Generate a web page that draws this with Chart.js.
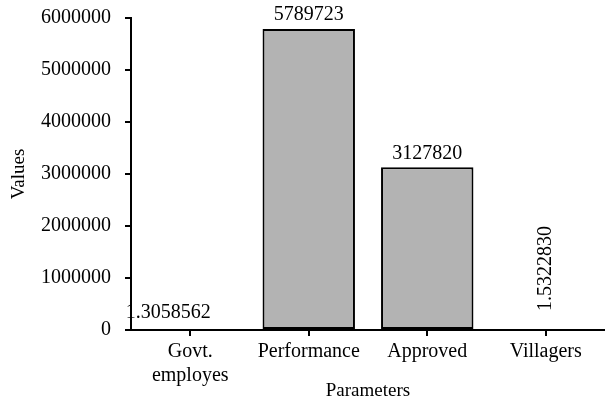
<!DOCTYPE html>
<html>
<head>
<meta charset="utf-8">
<script src="https://cdn.jsdelivr.net/npm/chart.js@4/dist/chart.umd.min.js"></script>
<style>
  html, body { margin: 0; padding: 0; background: #ffffff; }
  #wrap { width: 605px; height: 402px; }
</style>
</head>
<body>
<div id="wrap"><canvas id="c" width="605" height="402"></canvas></div>
<script>
// Datos del gráfico
const CATEGORIAS = [['Govt.', 'employes'], 'Performance', 'Approved', 'Villagers'];
const VALORES = [1.3058562, 5789723, 3127820, 1.5322830];
const ETIQUETAS = ['1.3058562', '5789723', '3127820', '1.5322830'];
const Y_TICKS = [0, 1000000, 2000000, 3000000, 4000000, 5000000, 6000000];

const FUENTE = "'Liberation Serif', 'Times New Roman', serif";
const NEGRO = '#000000';

// Etiquetas de valor sobre cada barra (la última va en vertical)
const valueLabels = {
  id: 'valueLabels',
  afterDatasetsDraw(chart) {
    const { ctx } = chart;
    const meta = chart.getDatasetMeta(0);
    ctx.save();
    ctx.font = `20px ${FUENTE}`;
    ctx.fillStyle = NEGRO;
    meta.data.forEach((bar, i) => {
      const txt = ETIQUETAS[i];
      if (i === meta.data.length - 1) {
        ctx.save();
        ctx.translate(bar.x, bar.y - 19);
        ctx.rotate(-Math.PI / 2);
        ctx.textAlign = 'left';
        ctx.textBaseline = 'middle';
        ctx.fillText(txt, 0, 0);
        ctx.restore();
      } else {
        ctx.textAlign = 'center';
        ctx.textBaseline = 'bottom';
        const chico = VALORES[i] < 10;
        ctx.fillText(txt, bar.x - (chico ? 22 : 0), bar.y - (chico ? 7 : 4));
      }
    });
    ctx.restore();
  },
};

new Chart(document.getElementById('c').getContext('2d'), {
  type: 'bar',
  data: {
    labels: CATEGORIAS,
    datasets: [{
      data: VALORES,
      backgroundColor: '#b3b3b3',
      borderColor: NEGRO,
      borderWidth: 2,
      borderSkipped: false,
      categoryPercentage: 1,
      barPercentage: 0.78,
    }],
  },
  options: {
    responsive: false,
    animation: false,
    layout: { padding: { top: 18, right: 0, left: 0, bottom: 0 } },
    plugins: {
      legend: { display: false },
      tooltip: { enabled: false },
    },
    scales: {
      x: {
        offset: true,
        grid: { display: true, drawOnChartArea: false, offset: false, color: NEGRO, lineWidth: 2, tickLength: 6 },
        border: { display: true, color: NEGRO, width: 2 },
        ticks: { color: NEGRO, font: { family: FUENTE, size: 20 }, padding: 4, maxRotation: 0 },
        title: { display: true, text: 'Parameters', color: NEGRO, font: { family: FUENTE, size: 19 }, padding: { top: 0, bottom: 0 } },
        afterFit: (s) => { s.height = 72; s.paddingLeft = 0; s.paddingRight = 0; },
      },
      y: {
        min: 0,
        max: 6000000,
        afterBuildTicks: (s) => { s.ticks = Y_TICKS.map((v) => ({ value: v })); },
        grid: { display: true, drawOnChartArea: false, color: NEGRO, lineWidth: 2, tickLength: 6 },
        border: { display: true, color: NEGRO, width: 2 },
        ticks: { color: NEGRO, font: { family: FUENTE, size: 20 }, padding: 14, callback: (v) => String(v) },
        title: { display: true, text: 'Values', color: NEGRO, font: { family: FUENTE, size: 19 }, padding: { top: 8, bottom: 0 } },
        afterFit: (s) => { s.width = 131; s.paddingTop = 0; s.paddingBottom = 0; },
      },
    },
  },
  plugins: [valueLabels],
});
</script>
</body>
</html>
